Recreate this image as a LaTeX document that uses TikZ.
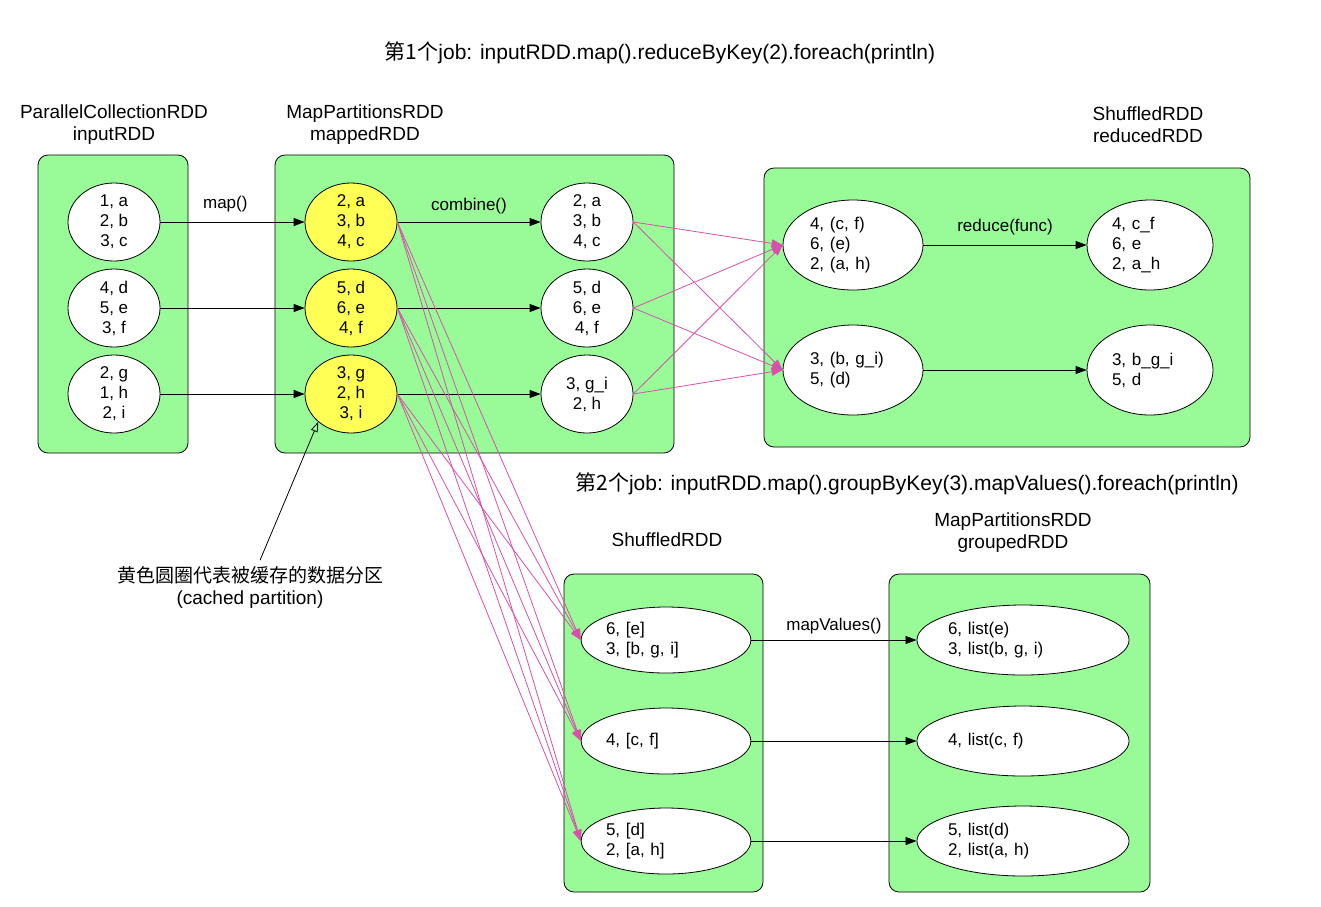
\documentclass[tikz,border=0pt]{standalone}
\usepackage{fontspec}
\setmainfont{Liberation Sans}
\newfontfamily\cjk{Noto Sans CJK SC}
\usetikzlibrary{arrows.meta, shapes.geometric}
\definecolor{boxgreen}{RGB}{152,251,152}
\definecolor{cachey}{RGB}{255,255,85}
\definecolor{shufpink}{RGB}{217,80,170}

\begin{document}
\begin{tikzpicture}[x=1pt,y=-1pt,
  font=\fontsize{17}{20}\selectfont,
  rdd/.style={draw, fill=boxgreen, rounded corners=10pt, line width=0.8pt},
  part/.style={draw, ellipse, fill=white, line width=0.8pt, align=center, inner sep=0pt, minimum width=92pt, minimum height=78pt},
  wide/.style={part, align=left, text width=#1},
  cached/.style={part, fill=cachey},
  title/.style={align=center, font=\fontsize{19}{22}\selectfont},
  job/.style={font=\fontsize{21}{24}\selectfont},
  >={Triangle[length=11pt,width=8pt]}, line width=0.8pt]
\useasboundingbox (0,0) rectangle (1321,906);

% the RDD boxes
\draw[rdd] (38,155) rectangle (188,453);
\draw[rdd] (275,155) rectangle (674,453);
\draw[rdd] (764,168) rectangle (1250,447);
\draw[rdd] (564,574) rectangle (763,892);
\draw[rdd] (889,574) rectangle (1150,892);

% titles
\node[job] (job1) at (660,53) {{\cjk 第1个}job: inputRDD.map().reduceByKey(2).foreach(println)};
\node[job] (job2) at (907,484) {{\cjk 第2个}job: inputRDD.map().groupByKey(3).mapValues().foreach(println)};
\node[title] (tin) at (114,125) {ParallelCollectionRDD\\inputRDD};
\node[title] (tmap) at (365,125) {MapPartitionsRDD\\mappedRDD};
\node[title] (tred) at (1148,125) {ShuffledRDD\\reducedRDD};
\node[title] (tshuf) at (667,540) {ShuffledRDD};
\node[title] (tgrp) at (1013,533) {MapPartitionsRDD\\groupedRDD};

% define the partitions
\node[part] (i1) at (114,222) {1, a\\2, b\\3, c};
\node[part] (i2) at (114,308) {4, d\\5, e\\3, f};
\node[part] (i3) at (114,394) {2, g\\1, h\\2, i};
\node[cached] (m1) at (351,222) {2, a\\3, b\\4, c};
\node[cached] (m2) at (351,308) {5, d\\6, e\\4, f};
\node[cached] (m3) at (351,394) {3, g\\2, h\\3, i};
\node[part] (c1) at (587,222) {2, a\\3, b\\4, c};
\node[part] (c2) at (587,308) {5, d\\6, e\\4, f};
\node[part] (c3) at (587,394) {3, g\_i\\2, h};
\node[wide=86pt, minimum width=140pt, minimum height=90pt] (r1) at (853,245) {4, (c, f)\\6, (e)\\2, (a, h)};
\node[wide=86pt, minimum width=140pt, minimum height=90pt] (r2) at (853,370) {3, (b, g\_i)\\5, (d)};
\node[wide=76pt, minimum width=126pt, minimum height=90pt] (f1) at (1150,245) {4, c\_f\\6, e\\2, a\_h};
\node[wide=76pt, minimum width=126pt, minimum height=90pt] (f2) at (1150,370) {3, b\_g\_i\\5, d};
\node[wide=120pt, minimum width=140pt, minimum height=66pt] (s1) at (666,640) {6, [e]\\3, [b, g, i]};
\node[wide=120pt, minimum width=140pt, minimum height=66pt] (s2) at (666,741) {4, [c, f]};
\node[wide=120pt, minimum width=140pt, minimum height=66pt] (s3) at (666,841) {5, [d]\\2, [a, h]};
\node[wide=150pt, minimum width=176pt, minimum height=70pt] (g1) at (1023,640) {6, list(e)\\3, list(b, g, i)};
\node[wide=150pt, minimum width=176pt, minimum height=70pt] (g2) at (1023,741) {4, list(c, f)};
\node[wide=150pt, minimum width=176pt, minimum height=70pt] (g3) at (1023,841) {5, list(d)\\2, list(a, h)};

% note on cached partitions
\node[title] (note) at (250,587) {{\cjk 黄色圆圈代表被缓存的数据分区}\\(cached partition)};

% define the links
\path[->] (i1) edge node[above=6pt, pos=0.45] {map()} (m1)
          (i2) edge (m2)
          (i3) edge (m3)
          (m1) edge node[above=4pt] {combine()} (c1)
          (m2) edge (c2)
          (m3) edge (c3)
          (r1) edge node[above=6pt] {reduce(func)} (f1)
          (r2) edge (f2)
          (s1) edge node[above=2pt] {mapValues()} (g1)
          (s2) edge (g2)
          (s3) edge (g3);
\draw[-{Triangle[open,length=10pt,width=7pt]}] (note.north) ++(10,-2) coordinate (nt) (nt) -- (m3.south west);

% shuffle links
\foreach \a in {c1,c2,c3}
  \foreach \b in {r1,r2}
    \draw[->, shufpink] (\a.east) -- (\b.west);
\foreach \a in {m1,m2,m3}
  \foreach \b in {s1,s2,s3}
    \draw[->, shufpink] (\a.east) -- (\b.west);
\end{tikzpicture}
\end{document}
